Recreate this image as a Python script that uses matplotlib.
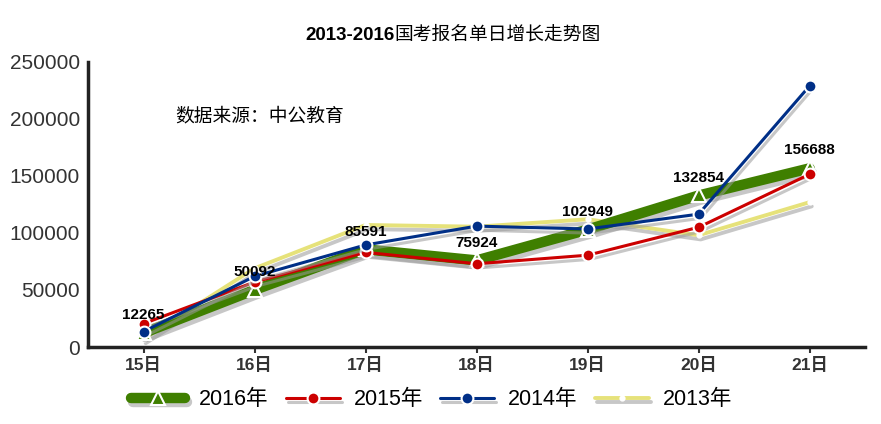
import matplotlib.pyplot as plt
import matplotlib.patheffects as pe
from matplotlib.lines import Line2D

plt.rcParams['font.family'] = ['Liberation Sans', 'Noto Sans CJK SC']

days = ["15日", "16日", "17日", "18日", "19日", "20日", "21日"]
y2016 = [12265, 50092, 85591, 75924, 102949, 132854, 156688]
y2015 = [20500, 57000, 83000, 73000, 80500, 105000, 151500]
y2014 = [13500, 62000, 89500, 106000, 103500, 116500, 229000]
y2013 = [7000, 69000, 107000, 105500, 112000, 98000, 127000]

fig = plt.figure(figsize=(8.81, 4.24), dpi=100)
ax = fig.add_axes([0.1, 0.1816, 0.882, 0.6724])

x = list(range(len(days)))
shadow = [pe.SimpleLineShadow(offset=(1.5, -3), shadow_color='#9a9a9a', alpha=0.55), pe.Normal()]

# series: values, colour, line width, marker, marker size
series = [
    (y2016, '#3f7f00', 7.5, '^', 10, '2016年', 3),
    (y2015, '#cc0000', 2.2, 'o', 8.5, '2015年', 4),
    (y2014, '#002f87', 2.2, 'o', 8.5, '2014年', 5),
    (y2013, '#e6e27a', 2.8, 'o', 3, '2013年', 2),
]

handles = []
for vals, c, lw, m, ms, lab, z in series:
    fc = c if ms > 4 else 'white'
    ax.plot(x, vals, color=c, lw=lw, path_effects=shadow, zorder=z, solid_capstyle='round')
    ax.plot(x, vals, ls='none', marker=m, ms=ms, mfc=fc, mec='white', mew=1.5, zorder=z)
    ln = Line2D([], [], color=c, lw=lw, path_effects=shadow, solid_capstyle='round')
    mk = Line2D([], [], ls='none', marker=m, ms=ms, mfc=fc, mec='white', mew=1.5)
    handles.append((ln, mk))

for i, v in enumerate(y2016):
    ax.annotate(str(v), (i, v), xytext=(0, 10), textcoords='offset points', ha='center',
                fontsize=11, fontweight='bold', zorder=6)

ax.set_xlim(-0.5, 6.5)
ax.set_ylim(0, 250000)
ax.set_yticks([0, 50000, 100000, 150000, 200000, 250000])
ax.set_xticks(x)
ax.set_xticklabels(days, fontsize=12.5, fontweight='bold')
ax.tick_params(axis='y', labelsize=15, length=0, pad=6, colors='#333333')
ax.tick_params(axis='x', length=4, width=1.5, colors='#333333')
for s in ['top', 'right']:
    ax.spines[s].set_visible(False)
for s in ['left', 'bottom']:
    ax.spines[s].set_linewidth(2.5)
    ax.spines[s].set_color('#222222')

ax.text(0.112, 0.807, "数据来源：中公教育", transform=ax.transAxes, fontsize=13.5, va='center')
fig.text(0.448, 0.917, "2013-2016", ha='right', va='center', fontsize=13.5, fontweight='bold')
fig.text(0.448, 0.917, "国考报名单日增长走势图", ha='left', va='center', fontsize=13.5)

fig.legend(handles, [s[5] for s in series], loc='center', bbox_to_anchor=(0.49, 0.057),
           ncol=4, frameon=False, fontsize=15.5, handlelength=2.5, handletextpad=0.65,
           columnspacing=0.8)

fig.savefig('out.png', dpi=100)
